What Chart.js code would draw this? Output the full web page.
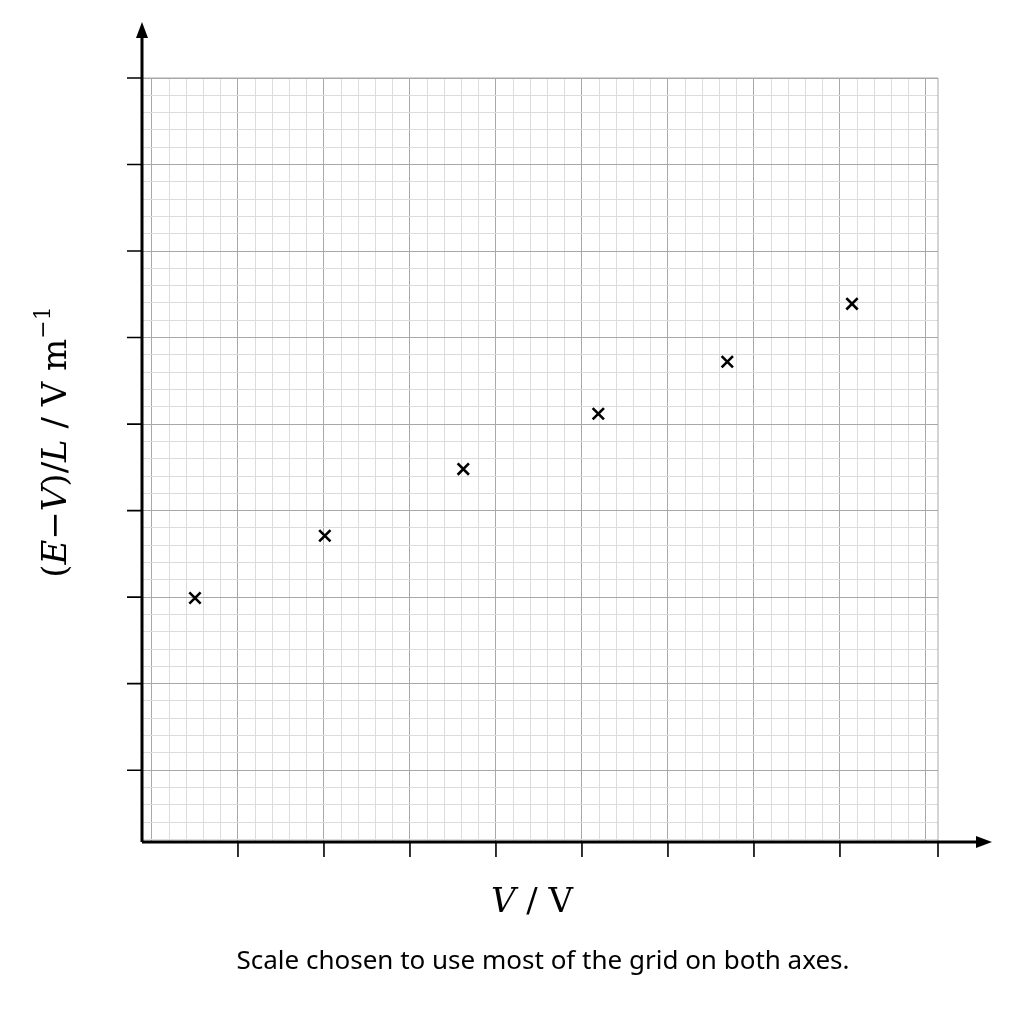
<!DOCTYPE html>
<html>
<head>
<meta charset="utf-8">
<script src="https://cdn.jsdelivr.net/npm/chart.js@4/dist/chart.umd.min.js"></script>
<style>
  body { margin: 0; background: #fff; }
  #wrap { width: 1024px; height: 1024px; }
</style>
</head>
<body>
<div id="wrap"><canvas id="plot"></canvas></div>
<script>
// readings (grid units)
const vValues = [0.5, 2.01, 3.62, 5.19, 6.69, 8.14];
const evlValues = [2.99, 3.71, 4.48, 5.12, 5.72, 6.39];
const xTitle = ["V", " / V"];
const caption = "Scale chosen to use most of the grid on both axes.";

const points = vValues.map((v, i) => ({ x: v, y: evlValues[i] }));

function gridTicks(scale) {
  const t = [];
  for (let i = 0; i <= 45; i++) {
    const v = i / 5;
    if (v >= scale.min - 1e-6 && v <= scale.max + 1e-6) t.push({ value: v });
  }
  scale.ticks = t;
}
function gridColor(ctx) {
  const v = ctx.tick ? ctx.tick.value : 0;
  return Math.abs(v - Math.round(v)) < 1e-6 ? "#a8a8a8" : "#dcdcdc";
}

const decor = {
  id: "decor",
  afterDraw(chart) {
    const { ctx, chartArea: a, scales } = chart;
    ctx.save();
    ctx.strokeStyle = "#a8a8a8";
    ctx.lineWidth = 1;
    ctx.beginPath();
    ctx.moveTo(a.left, a.top); ctx.lineTo(a.right, a.top); ctx.lineTo(a.right, a.bottom);
    ctx.stroke();
    // axes with arrows
    ctx.strokeStyle = "#000";
    ctx.fillStyle = "#000";
    ctx.lineWidth = 3;
    ctx.beginPath();
    ctx.moveTo(a.left, a.bottom); ctx.lineTo(a.left, 30);
    ctx.moveTo(a.left, a.bottom); ctx.lineTo(982, a.bottom);
    ctx.stroke();
    ctx.beginPath();
    ctx.moveTo(a.left, 22); ctx.lineTo(a.left - 6, 38); ctx.lineTo(a.left + 6, 38); ctx.closePath();
    ctx.moveTo(992, a.bottom); ctx.lineTo(976, a.bottom - 6); ctx.lineTo(976, a.bottom + 6); ctx.closePath();
    ctx.fill();
    // tick marks
    ctx.lineWidth = 1.6;
    ctx.beginPath();
    for (let v = 1; v <= 8; v++) {
      const x = scales.x.getPixelForValue(v);
      ctx.moveTo(x, a.bottom); ctx.lineTo(x, a.bottom + 15);
    }
    ctx.moveTo(a.right, a.bottom); ctx.lineTo(a.right, a.bottom + 15);
    for (let v = 1; v <= 9; v++) {
      const y = scales.y.getPixelForValue(v);
      ctx.moveTo(a.left, y); ctx.lineTo(a.left - 15, y);
    }
    ctx.stroke();
    // x title
    const f = "'DejaVu Serif', serif";
    ctx.textBaseline = "alphabetic";
    ctx.font = "italic 34px " + f;
    const w1 = ctx.measureText(xTitle[0]).width;
    ctx.font = "34px " + f;
    const w2 = ctx.measureText(xTitle[1]).width;
    const x0 = 532 - (w1 + w2) / 2;
    ctx.font = "italic 34px " + f;
    ctx.fillText(xTitle[0], x0, 912);
    ctx.font = "34px " + f;
    ctx.fillText(xTitle[1], x0 + w1, 912);
    // y title, rotated
    const parts = [
      ["(", false], ["E", true], ["\u2212", false], ["V", true], [")/", false],
      ["L", true], [" / V m", false]
    ];
    ctx.translate(66, 442);
    ctx.rotate(-Math.PI / 2);
    let total = 0;
    for (const [t, it] of parts) {
      ctx.font = (it ? "italic " : "") + "34px " + f;
      total += ctx.measureText(t).width;
    }
    ctx.font = "22px " + f;
    total += ctx.measureText("\u22121").width;
    let px = -total / 2;
    for (const [t, it] of parts) {
      ctx.font = (it ? "italic " : "") + "34px " + f;
      ctx.fillText(t, px, 0);
      px += ctx.measureText(t).width;
    }
    ctx.font = "22px " + f;
    ctx.fillText("\u22121", px, -16);
    ctx.setTransform(1, 0, 0, 1, 0, 0);
    // caption
    ctx.font = "26px 'Noto Sans', sans-serif";
    ctx.textAlign = "center";
    ctx.fillText(caption, 543, 969);
    ctx.restore();
  }
};

new Chart(document.getElementById("plot"), {
  type: "scatter",
  data: {
    datasets: [{
      data: points,
      pointStyle: "crossRot",
      pointRadius: 8,
      pointBorderWidth: 2.6,
      borderColor: "#000",
      backgroundColor: "#000"
    }]
  },
  options: {
    responsive: true,
    maintainAspectRatio: false,
    animation: false,
    devicePixelRatio: 1,
    layout: { padding: { left: 142, right: 86, top: 78, bottom: 182 } },
    plugins: { legend: { display: false }, tooltip: { enabled: false } },
    scales: {
      x: {
        type: "linear", min: -0.116, max: 9.14,
        afterBuildTicks: gridTicks,
        ticks: { display: false },
        border: { display: false },
        grid: { color: gridColor, drawTicks: false, lineWidth: 1 }
      },
      y: {
        type: "linear", min: 0.17, max: 9,
        afterBuildTicks: gridTicks,
        ticks: { display: false },
        border: { display: false },
        grid: { color: gridColor, drawTicks: false, lineWidth: 1 }
      }
    }
  },
  plugins: [decor]
});
</script>
</body>
</html>
